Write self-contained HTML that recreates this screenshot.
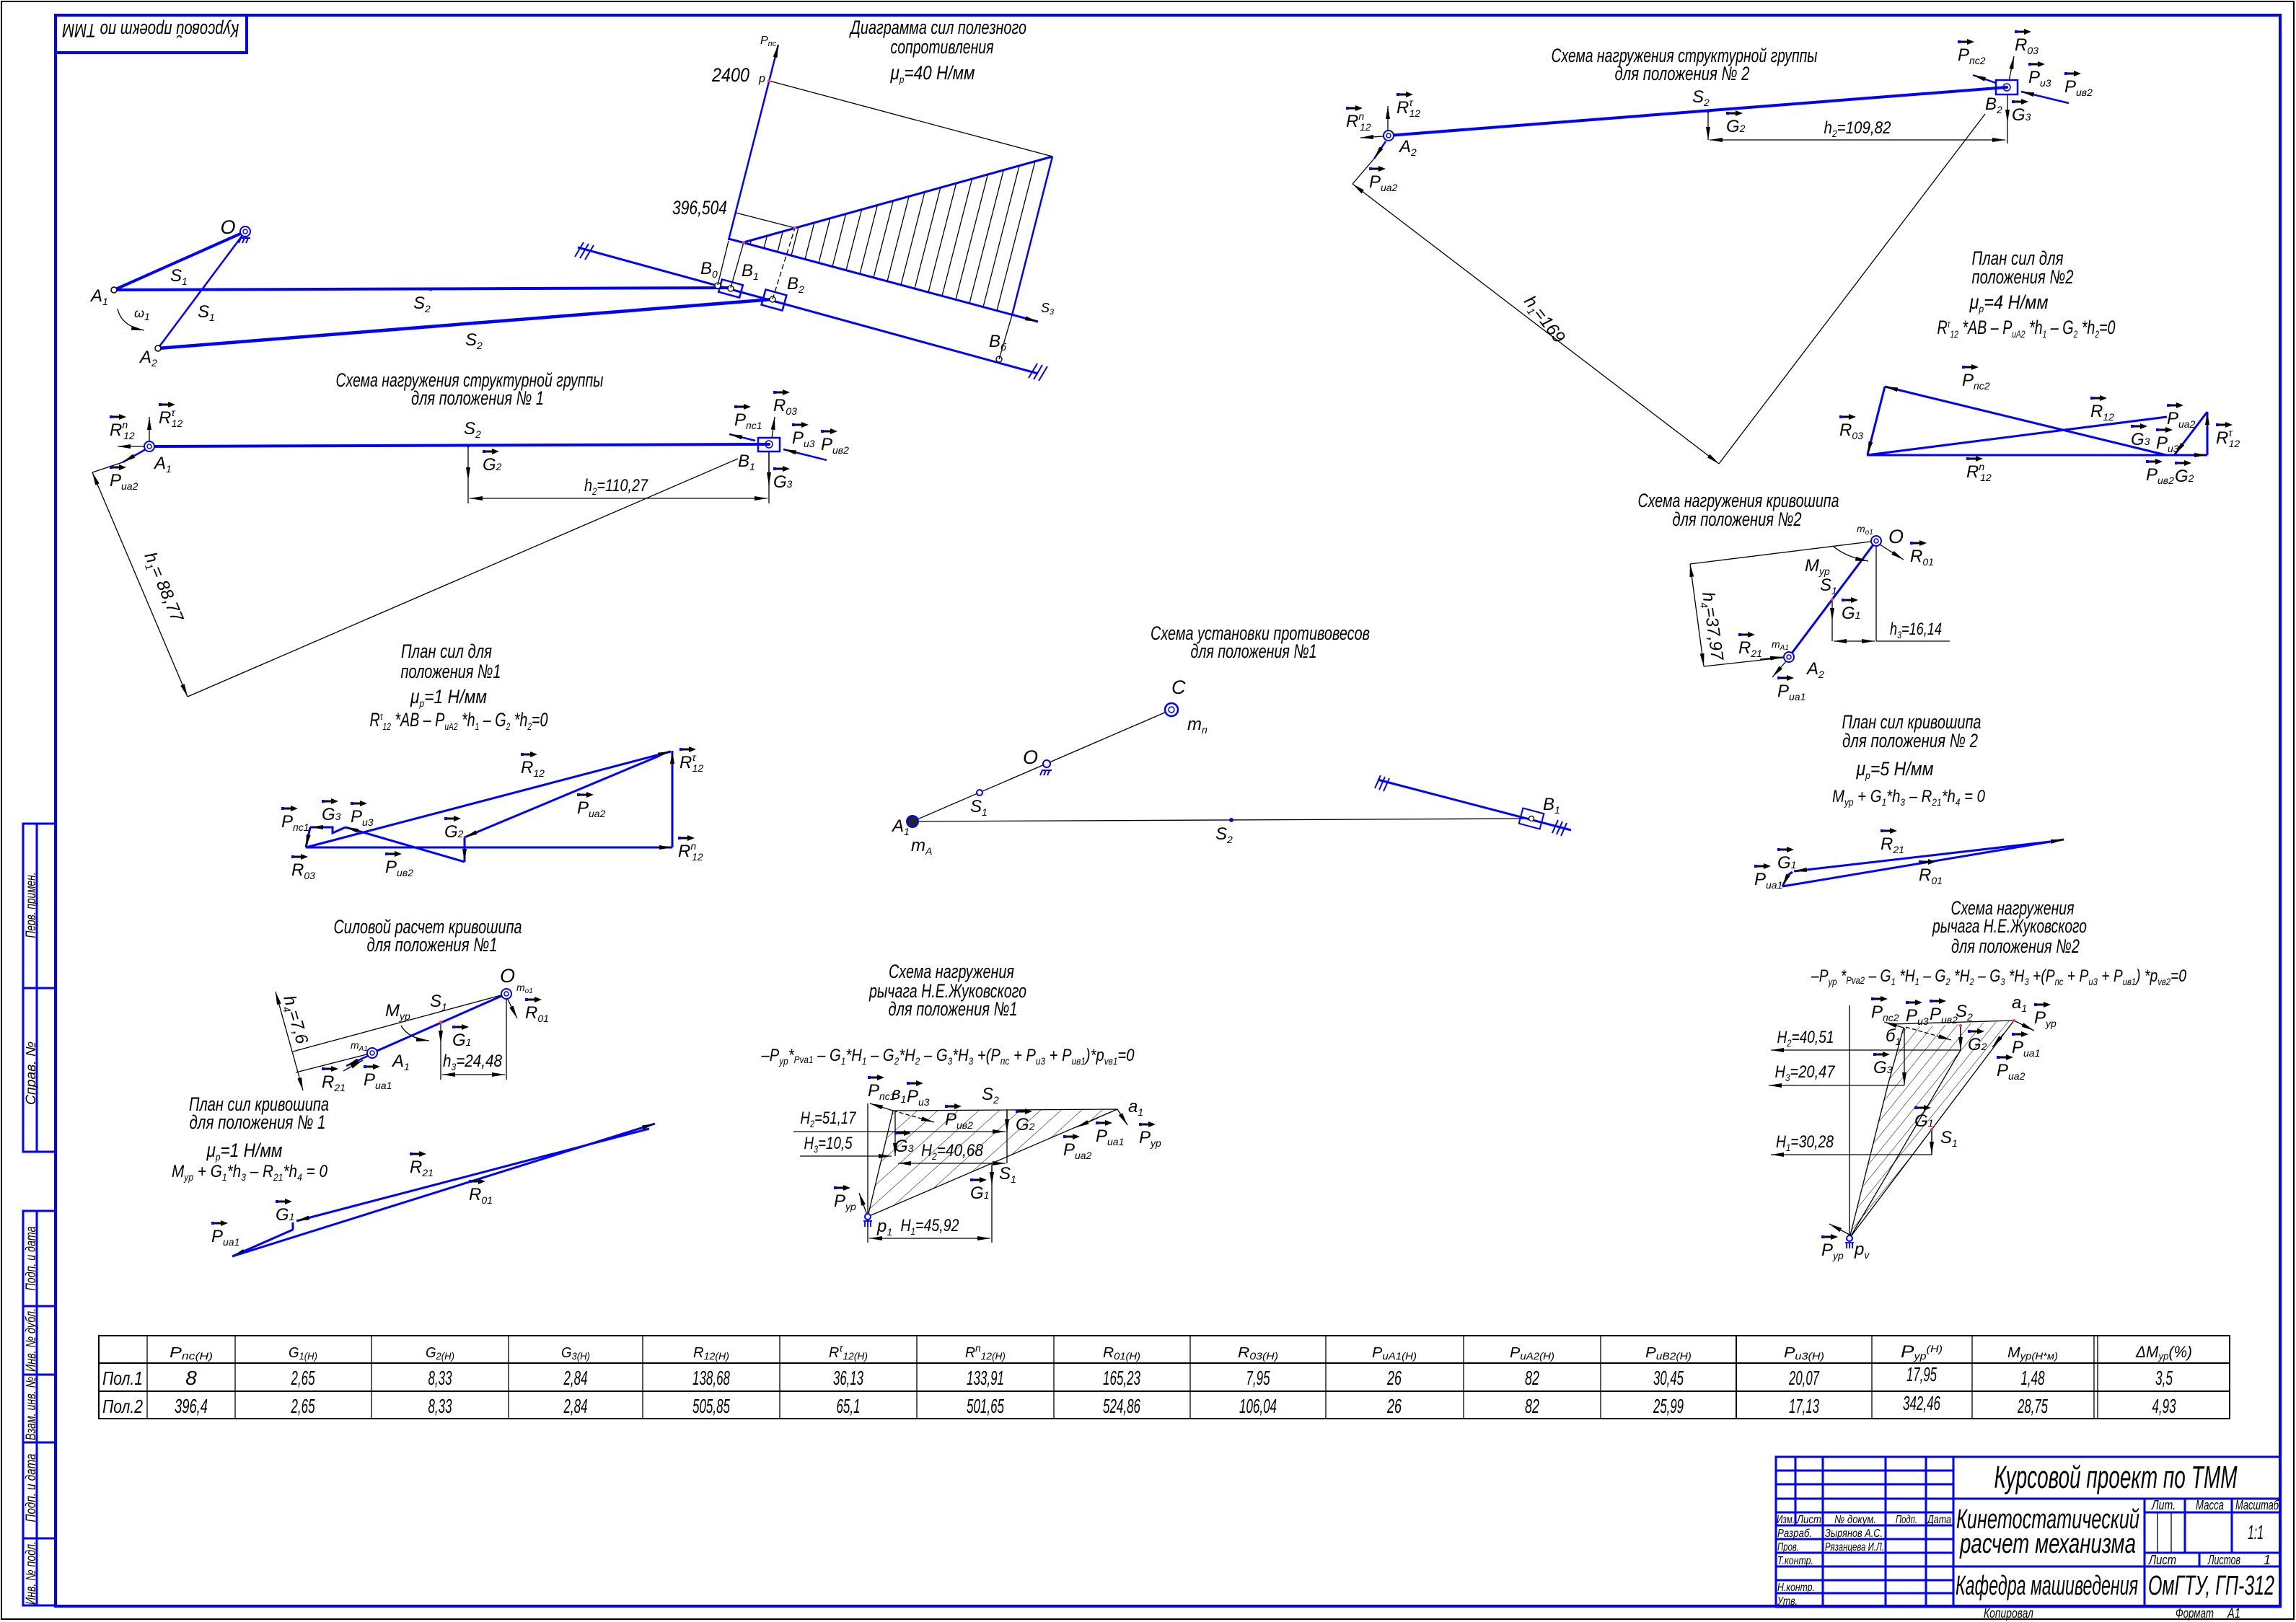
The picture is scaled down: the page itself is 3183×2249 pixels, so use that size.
<!DOCTYPE html>
<html><head><meta charset="utf-8">
<style>
html,body{margin:0;padding:0;background:#fff}
svg{display:block}
text{font-family:"Liberation Sans Narrow","Liberation Sans","DejaVu Sans",sans-serif;font-style:italic;fill:#000}
.t{font-size:27px}
.l{font-size:24px}
.s{font-size:14px}
.m{font-size:18px}
.b{stroke:#0000ff;fill:none}
.k{stroke:#000;fill:none;stroke-width:1.3}
.f{stroke:#0000ff;fill:none;stroke-width:3}
.tb{stroke:#000;fill:none}
.bl{stroke:#0000ff;fill:none;stroke-width:3}
</style></head><body>
<svg width="3183" height="2249" viewBox="0 0 3183 2249" xmlns="http://www.w3.org/2000/svg">
<defs>
<marker id="a" viewBox="0 0 18 6" refX="18" refY="3" markerWidth="18" markerHeight="6" markerUnits="userSpaceOnUse" orient="auto-start-reverse"><path d="M0 0L18 3L0 6z" fill="#000"/></marker>
<g id="v"><rect x="0" y="-2" width="4" height="4" fill="#00f"/><path d="M4 0H16" stroke="#000" stroke-width="3"/><path d="M13 -4L23 0L13 4z" fill="#000"/></g>
<g id="c"><circle r="7" fill="#fff" stroke="#00f" stroke-width="2"/><circle r="3" fill="none" stroke="#00f" stroke-width="1.5"/></g>
<g id="g"><path d="M-7 9H7M-6 9l-3 7M-1 9l-3 7M4 9l-3 7" stroke="#00f" stroke-width="2" fill="none"/></g>
<pattern id="h1" width="19" height="19" patternUnits="userSpaceOnUse" patternTransform="rotate(48)"><line x1="0" y1="0" x2="0" y2="19" stroke="#000" stroke-width="1"/></pattern>
<pattern id="h2" width="13" height="13" patternUnits="userSpaceOnUse" patternTransform="rotate(39)"><line x1="0" y1="0" x2="0" y2="13" stroke="#000" stroke-width="1"/></pattern>
</defs>
<rect width="3183" height="2249" fill="#fff"/>
<!-- frame -->
<rect x="2" y="2" width="3178" height="2243" fill="none" stroke="#000" stroke-width="2"/>
<rect x="77" y="21" width="3084" height="2206" fill="none" stroke="#00f" stroke-width="4"/>
<rect x="77" y="21" width="265" height="52" fill="none" stroke="#00f" stroke-width="4"/>
<text class="t" transform="rotate(180 209 47)" x="209" y="61" text-anchor="middle" textLength="245" lengthAdjust="spacingAndGlyphs">Курсовой проект по ТММ</text>

<!-- sidebar -->
<g class="bl">
<rect x="32" y="1142" width="45" height="455"/><path d="M51 1142V1597M32 1370H77"/>
<rect x="32" y="1679" width="45" height="547"/><path d="M51 1679V2226M32 1811H77M32 1906H77M32 2000H77M32 2133H77"/>
</g>
<text transform="translate(49 1255) rotate(-90)" text-anchor="middle" style="font-size:19px" textLength="91" lengthAdjust="spacingAndGlyphs">Перв. примен.</text>
<text transform="translate(49 1488) rotate(-90)" text-anchor="middle" style="font-size:19px" textLength="88" lengthAdjust="spacingAndGlyphs">Справ. №</text>
<text transform="translate(49 1745) rotate(-90)" text-anchor="middle" style="font-size:19px" textLength="89" lengthAdjust="spacingAndGlyphs">Подп. и дата</text>
<text transform="translate(49 1858) rotate(-90)" text-anchor="middle" style="font-size:19px" textLength="88" lengthAdjust="spacingAndGlyphs">Инв. № дубл.</text>
<text transform="translate(49 1953) rotate(-90)" text-anchor="middle" style="font-size:19px" textLength="88" lengthAdjust="spacingAndGlyphs">Взам. инв. №</text>
<text transform="translate(49 2063) rotate(-90)" text-anchor="middle" style="font-size:19px" textLength="95" lengthAdjust="spacingAndGlyphs">Подп. и дата</text>
<text transform="translate(49 2181) rotate(-90)" text-anchor="middle" style="font-size:19px" textLength="88" lengthAdjust="spacingAndGlyphs">Инв. № подл.</text>

<!-- ============ TOP-LEFT MECHANISM ============ -->
<path class="b" stroke-width="4" d="M158 402L340 321"/>
<path class="b" stroke-width="2.5" d="M340 321L219 483"/>
<path class="b" stroke-width="4" d="M158 402L1012 399"/>
<path class="b" stroke-width="4.5" d="M219 483L1071 415"/>
<circle cx="158" cy="402" r="4" fill="#fff" stroke="#000" stroke-width="1.5"/>
<circle cx="219" cy="483" r="4" fill="#fff" stroke="#000" stroke-width="1.5"/>
<use href="#g" x="340" y="321"/><use href="#c" x="340" y="321"/>
<circle cx="597" cy="401" r="2.5" fill="#00f"/><circle cx="658" cy="448" r="2.5" fill="#00f"/>
<text class="t" x="316" y="324" text-anchor="middle">O</text>
<text class="l" x="126" y="418">A<tspan class="s" dy="5">1</tspan></text>
<text class="l" x="194" y="503">A<tspan class="s" dy="5">2</tspan></text>
<text class="l" x="236" y="390">S<tspan class="s" dy="5">1</tspan></text>
<text class="l" x="274" y="440">S<tspan class="s" dy="5">1</tspan></text>
<text class="m" x="186" y="440">ω<tspan class="s" dy="4">1</tspan></text>
<path class="k" d="M163 428Q168 452 200 458" marker-end="url(#a)"/>
<text class="l" x="573" y="428">S<tspan class="s" dy="5">2</tspan></text>
<text class="l" x="645" y="479">S<tspan class="s" dy="5">2</tspan></text>
<!-- guide -->
<path class="b" stroke-width="3" d="M801 343L1439 518"/>
<path class="b" stroke-width="2" d="M797 356L809 336M804 358L816 338M811 360L823 340M1426 524L1438 504M1433 526L1445 506M1440 528L1452 508"/>
<rect x="-15" y="-9" width="30" height="18" transform="translate(1013 400) rotate(15.3)" fill="none" stroke="#00f" stroke-width="2.5"/>
<rect x="-15" y="-11" width="30" height="22" transform="translate(1073 416) rotate(15.3)" fill="none" stroke="#00f" stroke-width="2.5"/>
<circle cx="995" cy="396" r="4" fill="#fff" stroke="#000" stroke-width="1.3"/>
<circle cx="1013" cy="400" r="4" fill="#fff" stroke="#000" stroke-width="1.3"/>
<circle cx="1071" cy="415" r="4" fill="#fff" stroke="#000" stroke-width="1.3"/>
<circle cx="1385" cy="498" r="4" fill="#fff" stroke="#000" stroke-width="1.3"/>
<text class="l" x="971" y="380">B<tspan class="s" dy="5">0</tspan></text>
<text class="l" x="1028" y="383">B<tspan class="s" dy="5">1</tspan></text>
<text class="l" x="1091" y="401">B<tspan class="s" dy="5">2</tspan></text>
<text class="l" x="1371" y="481">B<tspan class="s" dy="5">б</tspan></text>
<!-- diagram -->
<path class="b" stroke-width="2.5" d="M1010 333L1079 62" marker-end="url(#a)"/>
<path class="b" stroke-width="3" d="M1031 336L1459 217"/>
<path class="b" stroke-width="2.5" d="M1459 217L1403 437"/>
<path class="b" stroke-width="3" d="M1010 331L1439 446" marker-end="url(#a)"/>
<path class="k" d="M1066 112L1459 217M1020 295L1102 316M995 395L1010 334M1013 399L1031 336M1385 498L1403 437"/>
<path class="k" stroke-dasharray="7 4" d="M1071 415L1102 316"/>
<path class="k" stroke-width="1" d="M1040 339L1041.5 333.1M1059 344.1L1063.4 327M1078 349.2L1085.2 320.9M1097 354.3L1107.1 314.8M1116 359.4L1128.9 308.8M1135 364.5L1150.8 302.7M1154 369.6L1172.7 296.6M1173 374.7L1194.6 290.5M1192 379.8L1216.4 284.5M1211 384.9L1238.3 278.4M1230 390L1260.1 272.4M1249 395L1282 266.1M1268 400.1L1303.8 260.2M1287 405.2L1325.7 254M1306 410.3L1347.6 247.9M1325 415.4L1369.4 241.8M1344 420.5L1391.3 235.8M1363 425.6L1413.1 229.8M1382 430.7L1435 223.6"/>
<circle cx="1066" cy="112" r="2" fill="#f44"/><circle cx="1102" cy="316" r="2" fill="#f44"/><circle cx="1031" cy="336" r="2" fill="#f44"/>
<text class="m" x="1054" y="61" style="font-size:16px">P<tspan class="s" style="font-size:11px" dy="3">пс</tspan></text>
<text class="t" x="1013" y="113" text-anchor="middle" textLength="52" lengthAdjust="spacingAndGlyphs">2400</text>
<text class="m" x="1052" y="114" style="font-size:16px">p</text>
<text class="t" x="970" y="297" text-anchor="middle" textLength="76" lengthAdjust="spacingAndGlyphs">396,504</text>
<text class="m" x="1443" y="433">S<tspan class="s" style="font-size:11px" dy="3">3</tspan></text>
<text class="t" x="1301" y="47" text-anchor="middle" textLength="244" lengthAdjust="spacingAndGlyphs">Диаграмма сил полезного</text>
<text class="t" x="1306" y="74" text-anchor="middle" textLength="143" lengthAdjust="spacingAndGlyphs">сопротивления</text>
<text class="t" x="1293" y="110" text-anchor="middle" textLength="117" lengthAdjust="spacingAndGlyphs">μ<tspan class="s" dy="5">p</tspan><tspan dy="-5">=40 Н/мм</tspan></text>

<!-- ============ STRUCT GROUP 1 ============ -->
<text class="t" x="651" y="536" text-anchor="middle" textLength="371" lengthAdjust="spacingAndGlyphs">Схема нагружения структурной группы</text>
<text class="t" x="662" y="561" text-anchor="middle" textLength="184" lengthAdjust="spacingAndGlyphs">для положения № 1</text>
<path class="b" stroke-width="4" d="M207 619L1066 616"/>
<use href="#c" x="207" y="619"/>
<path class="k" stroke-width="1.6" d="M207 612L207 578" marker-end="url(#a)"/>
<path class="k" stroke-width="1.6" d="M199 619L163 619" marker-end="url(#a)"/>
<path class="b" stroke-width="2.5" d="M202 623L170 641" marker-end="url(#a)"/>
<path class="k" d="M170 641L128 655"/>
<path class="k" d="M128 655L260 966" marker-start="url(#a)" marker-end="url(#a)"/>
<path class="k" d="M260 966L1023 636"/>
<text class="l" transform="translate(200 770) rotate(67)" x="0" y="0">h<tspan class="s" dy="5">1</tspan><tspan dy="-5">= 88,77</tspan></text>
<circle cx="649" cy="618" r="2.5" fill="#00f"/>
<path class="k" stroke-width="1.6" d="M649 620L649 666" marker-end="url(#a)"/>
<path class="k" d="M649 666L649 698M1066 626L1066 698"/>
<path class="k" d="M651 691L1064 691" marker-start="url(#a)" marker-end="url(#a)"/>
<text class="l" x="854" y="681" text-anchor="middle" textLength="88" lengthAdjust="spacingAndGlyphs">h<tspan class="s" dy="5">2</tspan><tspan dy="-5">=110,27</tspan></text>
<rect x="1051" y="607" width="30" height="19" fill="none" stroke="#00f" stroke-width="2.5"/>
<circle cx="1066" cy="616" r="5" fill="none" stroke="#00f" stroke-width="1.5"/><circle cx="1066" cy="616" r="2" fill="#00f"/>
<path class="k" stroke-width="1.6" d="M1066 627L1066 673" marker-end="url(#a)"/>
<path class="k" stroke-width="1.6" d="M1070 607L1074 578" marker-end="url(#a)"/>
<path class="b" stroke-width="2.5" d="M1047 611L1011 602" marker-end="url(#a)"/>
<path class="b" stroke-width="2.5" d="M1146 638L1086 623" marker-end="url(#a)"/>
<text class="l" x="214" y="650">A<tspan class="s" dy="5">1</tspan></text>
<use href="#v" x="220" y="561"/><text class="l" x="220" y="587">R<tspan class="s" dy="-10">τ</tspan><tspan class="s" dx="-5" dy="15">12</tspan></text>
<use href="#v" x="152" y="578"/><text class="l" x="152" y="604">R<tspan class="s" dy="-10">n</tspan><tspan class="s" dx="-6" dy="15">12</tspan></text>
<use href="#v" x="152" y="648"/><text class="l" x="152" y="674">P<tspan class="s" dy="5">иа2</tspan></text>
<text class="l" x="643" y="602">S<tspan class="s" dy="5">2</tspan></text>
<use href="#v" x="669" y="626"/><text class="l" x="669" y="652">G<tspan class="s" dy="0">2</tspan></text>
<text class="l" x="1023" y="647">B<tspan class="s" dy="5">1</tspan></text>
<use href="#v" x="1072" y="650"/><text class="l" x="1072" y="676">G<tspan class="s">3</tspan></text>
<use href="#v" x="1072" y="544"/><text class="l" x="1072" y="570">R<tspan class="s" dy="5">03</tspan></text>
<use href="#v" x="1018" y="564"/><text class="l" x="1018" y="590">P<tspan class="s" dy="5">пс1</tspan></text>
<use href="#v" x="1098" y="589"/><text class="l" x="1098" y="615">P<tspan class="s" dy="5">и3</tspan></text>
<use href="#v" x="1138" y="598"/><text class="l" x="1138" y="624">P<tspan class="s" dy="5">ив2</tspan></text>

<!-- ============ FORCE PLAN 1 ============ -->
<text class="t" x="619" y="912" text-anchor="middle" textLength="126" lengthAdjust="spacingAndGlyphs">План сил для</text>
<text class="t" x="625" y="940" text-anchor="middle" textLength="139" lengthAdjust="spacingAndGlyphs">положения №1</text>
<text class="t" x="622" y="975" text-anchor="middle" textLength="106" lengthAdjust="spacingAndGlyphs">μ<tspan class="s" dy="5">p</tspan><tspan dy="-5">=1 Н/мм</tspan></text>
<text class="t" x="636" y="1007" text-anchor="middle" textLength="247" lengthAdjust="spacingAndGlyphs">R<tspan class="s" dy="-9">τ</tspan><tspan class="s" dy="14">12</tspan><tspan dy="-5"> *AB – P</tspan><tspan class="s" dy="5">иА2</tspan><tspan dy="-5"> *h</tspan><tspan class="s" dy="5">1</tspan><tspan dy="-5"> – G</tspan><tspan class="s" dy="5">2</tspan><tspan dy="-5"> *h</tspan><tspan class="s" dy="5">2</tspan><tspan dy="-5">=0</tspan></text>
<path class="f" d="M424 1175L932 1175" marker-end="url(#a)"/>
<path class="f" d="M932 1175L932 1041" marker-end="url(#a)"/>
<path class="f" d="M424 1175L930 1042" marker-end="url(#a)"/>
<path class="f" d="M914 1048L644 1161" marker-end="url(#a)"/>
<path class="f" d="M644 1161L644 1195" marker-end="url(#a)"/>
<path class="f" d="M644 1195L479 1147" marker-end="url(#a)"/>
<path class="f" d="M479 1147L461 1155L461 1147L430 1147" marker-end="url(#a)"/>
<path class="f" d="M430 1147L424 1175" marker-end="url(#a)"/>
<use href="#v" x="722" y="1046"/><text class="l" x="722" y="1072">R<tspan class="s" dy="5">12</tspan></text>
<use href="#v" x="942" y="1039"/><text class="l" x="942" y="1065">R<tspan class="s" dy="-10">τ</tspan><tspan class="s" dx="-5" dy="15">12</tspan></text>
<use href="#v" x="800" y="1102"/><text class="l" x="800" y="1128">P<tspan class="s" dy="5">иа2</tspan></text>
<use href="#v" x="616" y="1135"/><text class="l" x="616" y="1161">G<tspan class="s">2</tspan></text>
<use href="#v" x="534" y="1184"/><text class="l" x="534" y="1210">P<tspan class="s" dy="5">ив2</tspan></text>
<use href="#v" x="404" y="1188"/><text class="l" x="404" y="1214">R<tspan class="s" dy="5">03</tspan></text>
<use href="#v" x="390" y="1121"/><text class="l" x="390" y="1147">P<tspan class="s" dy="5">пс1</tspan></text>
<use href="#v" x="446" y="1111"/><text class="l" x="446" y="1137">G<tspan class="s">3</tspan></text>
<use href="#v" x="486" y="1114"/><text class="l" x="486" y="1140">P<tspan class="s" dy="5">и3</tspan></text>
<use href="#v" x="940" y="1162"/><text class="l" x="940" y="1188">R<tspan class="s" dy="-10">n</tspan><tspan class="s" dx="-6" dy="15">12</tspan></text>

<!-- ============ CRANK 1 ============ -->
<text class="t" x="593" y="1294" text-anchor="middle" textLength="261" lengthAdjust="spacingAndGlyphs">Силовой расчет кривошипа</text>
<text class="t" x="599" y="1319" text-anchor="middle" textLength="181" lengthAdjust="spacingAndGlyphs">для положения №1</text>
<path class="k" d="M702 1378L406 1458M516 1460L410 1487M702 1385L702 1497M611 1447L611 1497"/>
<path class="k" d="M382 1375L420 1512" marker-start="url(#a)" marker-end="url(#a)"/>
<path class="b" stroke-width="3" d="M702 1378L516 1460"/>
<path class="b" stroke-width="2.5" d="M510 1464L480 1478" marker-end="url(#a)"/>
<path class="k" stroke-width="1.6" d="M476 1485L503 1470" marker-end="url(#a)"/>
<use href="#c" x="702" y="1378"/><use href="#c" x="516" y="1460"/>
<circle cx="611" cy="1417" r="2" fill="#f44"/>
<path class="k" stroke-width="1.6" d="M611 1420L611 1447" marker-end="url(#a)"/>
<path class="k" d="M613 1490L700 1490" marker-start="url(#a)" marker-end="url(#a)"/>
<path class="k" stroke-width="1.6" d="M703 1384L717 1412" marker-end="url(#a)"/>
<path class="k" d="M556 1422Q566 1440 595 1443" marker-end="url(#a)"/>
<text class="l" transform="translate(393 1383) rotate(74)" x="0" y="0">h<tspan class="s" dy="5">4</tspan><tspan dy="-5">=7,6</tspan></text>
<text class="t" x="693" y="1362">O</text>
<text class="s" x="716" y="1374">m<tspan style="font-size:10px" dy="3">o1</tspan></text>
<text class="l" x="544" y="1479">A<tspan class="s" dy="5">1</tspan></text>
<text class="s" x="486" y="1454">m<tspan style="font-size:10px" dy="3">A1</tspan></text>
<text class="l" x="596" y="1396">S<tspan class="s" dy="5">1</tspan></text>
<text class="l" x="534" y="1409">M<tspan class="s" dy="5">ур</tspan></text>
<use href="#v" x="627" y="1424"/><text class="l" x="627" y="1450">G<tspan class="s">1</tspan></text>
<text class="l" x="655" y="1479" text-anchor="middle" textLength="82" lengthAdjust="spacingAndGlyphs">h<tspan class="s" dy="5">3</tspan><tspan dy="-5">=24,48</tspan></text>
<use href="#v" x="728" y="1386"/><text class="l" x="728" y="1412">R<tspan class="s" dy="5">01</tspan></text>
<use href="#v" x="446" y="1482"/><text class="l" x="446" y="1508">R<tspan class="s" dy="5">21</tspan></text>
<use href="#v" x="504" y="1479"/><text class="l" x="504" y="1505">P<tspan class="s" dy="5">иа1</tspan></text>

<!-- PLAN CRANK 1 -->
<text class="t" x="359" y="1540" text-anchor="middle" textLength="194" lengthAdjust="spacingAndGlyphs">План сил кривошипа</text>
<text class="t" x="357" y="1565" text-anchor="middle" textLength="189" lengthAdjust="spacingAndGlyphs">для положения № 1</text>
<text class="t" x="339" y="1604" text-anchor="middle" textLength="105" lengthAdjust="spacingAndGlyphs">μ<tspan class="s" dy="5">p</tspan><tspan dy="-5">=1 Н/мм</tspan></text>
<text class="l" x="346" y="1632" text-anchor="middle" textLength="216" lengthAdjust="spacingAndGlyphs">M<tspan class="s" dy="5">ур</tspan><tspan dy="-5"> + G</tspan><tspan class="s" dy="5">1</tspan><tspan dy="-5">*h</tspan><tspan class="s" dy="5">3</tspan><tspan dy="-5"> – R</tspan><tspan class="s" dy="5">21</tspan><tspan dy="-5">*h</tspan><tspan class="s" dy="5">4</tspan><tspan dy="-5"> = 0</tspan></text>
<path class="f" d="M900 1565L411 1693" marker-end="url(#a)"/>
<path class="f" d="M406 1695L406 1705"/>
<path class="f" d="M406 1705L322 1742" marker-end="url(#a)"/>
<path class="f" d="M322 1742L908 1558" marker-end="url(#a)"/>
<use href="#v" x="568" y="1600"/><text class="l" x="568" y="1626">R<tspan class="s" dy="5">21</tspan></text>
<use href="#v" x="650" y="1638"/><text class="l" x="650" y="1664">R<tspan class="s" dy="5">01</tspan></text>
<use href="#v" x="382" y="1666"/><text class="l" x="382" y="1692">G<tspan class="s">1</tspan></text>
<use href="#v" x="293" y="1696"/><text class="l" x="293" y="1722">P<tspan class="s" dy="5">иа1</tspan></text>

<!-- ============ ZHUKOVSKY 1 ============ -->
<text class="t" x="1319" y="1356" text-anchor="middle" textLength="174" lengthAdjust="spacingAndGlyphs">Схема нагружения</text>
<text class="t" x="1314" y="1383" text-anchor="middle" textLength="218" lengthAdjust="spacingAndGlyphs">рычага Н.Е.Жуковского</text>
<text class="t" x="1321" y="1408" text-anchor="middle" textLength="179" lengthAdjust="spacingAndGlyphs">для положения №1</text>
<text class="l" x="1314" y="1471" text-anchor="middle" textLength="517" lengthAdjust="spacingAndGlyphs">–P<tspan class="s" dy="5">ур</tspan><tspan dy="-5">*</tspan><tspan class="s" dy="3">Pvа1</tspan><tspan dy="-3"> – G</tspan><tspan class="s" dy="5">1</tspan><tspan dy="-5">*H</tspan><tspan class="s" dy="5">1</tspan><tspan dy="-5"> – G</tspan><tspan class="s" dy="5">2</tspan><tspan dy="-5">*H</tspan><tspan class="s" dy="5">2</tspan><tspan dy="-5"> – G</tspan><tspan class="s" dy="5">3</tspan><tspan dy="-5">*H</tspan><tspan class="s" dy="5">3</tspan><tspan dy="-5"> +(P</tspan><tspan class="s" dy="5">пс</tspan><tspan dy="-5"> + P</tspan><tspan class="s" dy="5">и3</tspan><tspan dy="-5"> + P</tspan><tspan class="s" dy="5">ив1</tspan><tspan dy="-5">)*p</tspan><tspan class="s" dy="5">vв1</tspan><tspan dy="-5">=0</tspan></text>
<path d="M1203 1687L1238 1540L1549 1538Z" fill="url(#h1)" stroke="none"/>
<path class="k" d="M1203 1530L1203 1723M1238 1540L1549 1538M1203 1687L1549 1538M1203 1687L1238 1540M1396 1538L1396 1613M1375 1617L1375 1723"/>
<path class="k" stroke-width="1.6" d="M1241 1542L1241 1603" marker-end="url(#a)"/>
<path class="k" stroke-width="1.6" d="M1396 1540L1396 1570" marker-end="url(#a)"/>
<path class="k" stroke-width="1.6" d="M1375 1614L1375 1643" marker-end="url(#a)"/>
<path class="k" d="M1100 1569L1394 1569" marker-end="url(#a)"/>
<path class="k" d="M1109 1603L1236 1603" marker-end="url(#a)"/>
<path class="k" d="M1245 1613L1394 1613" marker-start="url(#a)" marker-end="url(#a)"/>
<path class="k" d="M1205 1717L1373 1717" marker-start="url(#a)" marker-end="url(#a)"/>
<path class="k" stroke-width="1.6" d="M1238 1540L1206 1530" marker-end="url(#a)"/>
<path class="k" stroke-width="1.6" stroke-dasharray="6 3" d="M1238 1540L1295 1556" marker-end="url(#a)"/>
<path class="k" stroke-width="1.6" d="M1549 1538L1563 1560" marker-end="url(#a)"/>
<path class="k" stroke-width="1.6" d="M1522 1550L1492 1563" marker-end="url(#a)"/>
<path class="k" stroke-width="1.6" d="M1203 1687L1191 1654" marker-end="url(#a)"/>
<circle cx="1203" cy="1687" r="4" fill="#fff" stroke="#00f" stroke-width="2"/>
<path class="b" stroke-width="1.8" d="M1197 1693h12M1199 1693v8M1203 1693v8M1207 1693v8"/>
<text class="l" x="1148" y="1558" text-anchor="middle" textLength="77" lengthAdjust="spacingAndGlyphs">H<tspan class="s" dy="5">2</tspan><tspan dy="-5">=51,17</tspan></text>
<text class="l" x="1148" y="1593" text-anchor="middle" textLength="67" lengthAdjust="spacingAndGlyphs">H<tspan class="s" dy="5">3</tspan><tspan dy="-5">=10,5</tspan></text>
<text class="l" x="1320" y="1603" text-anchor="middle" textLength="86" lengthAdjust="spacingAndGlyphs">H<tspan class="s" dy="5">2</tspan><tspan dy="-5">=40,68</tspan></text>
<text class="l" x="1289" y="1707" text-anchor="middle" textLength="81" lengthAdjust="spacingAndGlyphs">H<tspan class="s" dy="5">1</tspan><tspan dy="-5">=45,92</tspan></text>
<use href="#v" x="1203" y="1494"/><text class="l" x="1203" y="1520">P<tspan class="s" dy="5">пс1</tspan></text>
<text class="l" x="1236" y="1524">в<tspan class="s" dy="5">1</tspan></text>
<use href="#v" x="1257" y="1502"/><text class="l" x="1257" y="1528">P<tspan class="s" dy="5">и3</tspan></text>
<text class="l" x="1361" y="1525">S<tspan class="s" dy="5">2</tspan></text>
<text class="l" x="1564" y="1542">а<tspan class="s" dy="5">1</tspan></text>
<use href="#v" x="1310" y="1534"/><text class="l" x="1310" y="1560">P<tspan class="s" dy="5">ив2</tspan></text>
<use href="#v" x="1408" y="1541"/><text class="l" x="1408" y="1567">G<tspan class="s">2</tspan></text>
<use href="#v" x="1240" y="1571"/><text class="l" x="1240" y="1597">G<tspan class="s">3</tspan></text>
<use href="#v" x="1519" y="1557"/><text class="l" x="1519" y="1583">P<tspan class="s" dy="5">иа1</tspan></text>
<use href="#v" x="1579" y="1559"/><text class="l" x="1579" y="1585">P<tspan class="s" dy="5">ур</tspan></text>
<use href="#v" x="1474" y="1576"/><text class="l" x="1474" y="1602">P<tspan class="s" dy="5">иа2</tspan></text>
<text class="l" x="1385" y="1635">S<tspan class="s" dy="5">1</tspan></text>
<use href="#v" x="1345" y="1636"/><text class="l" x="1345" y="1662">G<tspan class="s">1</tspan></text>
<use href="#v" x="1156" y="1647"/><text class="l" x="1156" y="1673">P<tspan class="s" dy="5">ур</tspan></text>
<text class="l" x="1216" y="1708">p<tspan class="s" dy="5">1</tspan></text>

<!-- ============ COUNTERWEIGHTS ============ -->
<text class="t" x="1747" y="887" text-anchor="middle" textLength="304" lengthAdjust="spacingAndGlyphs">Схема установки противовесов</text>
<text class="t" x="1738" y="912" text-anchor="middle" textLength="175" lengthAdjust="spacingAndGlyphs">для положения №1</text>
<path class="k" stroke-width="1.5" d="M1265 1139L1624 984"/>
<path class="k" stroke-width="2" d="M1265 1139L2123 1135"/>
<path class="b" stroke-width="3" d="M1910 1081L2178 1151"/>
<path class="b" stroke-width="2" d="M1906 1093L1914 1075M1912 1095L1920 1077M1918 1097L1926 1079M2152 1155L2160 1137M2158 1157L2166 1139M2164 1159L2172 1141"/>
<rect x="-15" y="-11" width="30" height="22" transform="translate(2123 1135) rotate(15)" fill="none" stroke="#00f" stroke-width="2"/>
<circle cx="2123" cy="1135" r="3.5" fill="#fff" stroke="#000" stroke-width="1.3"/>
<circle cx="1265" cy="1139" r="8" fill="#223" stroke="#00f" stroke-width="2"/>
<use href="#g" x="1451" y="1059"/><circle cx="1451" cy="1059" r="5" fill="#fff" stroke="#00f" stroke-width="2"/>
<circle cx="1358" cy="1099" r="4" fill="#fff" stroke="#00f" stroke-width="2"/>
<circle cx="1624" cy="984" r="9" fill="#fff" stroke="#00f" stroke-width="2.5"/><circle cx="1624" cy="984" r="4" fill="none" stroke="#00f" stroke-width="1.5"/>
<circle cx="1707" cy="1137" r="3" fill="#00f"/>
<text class="t" x="1624" y="962">C</text>
<text class="l" x="1646" y="1012">m<tspan class="s" dy="5">п</tspan></text>
<text class="t" x="1418" y="1059">O</text>
<text class="l" x="1345" y="1126">S<tspan class="s" dy="5">1</tspan></text>
<text class="l" x="1237" y="1153">A<tspan class="s" dy="5">1</tspan></text>
<text class="l" x="1263" y="1180">m<tspan class="s" dy="5">A</tspan></text>
<text class="l" x="1685" y="1164">S<tspan class="s" dy="5">2</tspan></text>
<text class="l" x="2139" y="1123">B<tspan class="s" dy="5">1</tspan></text>

<!-- ============ STRUCT GROUP 2 ============ -->
<text class="t" x="2335" y="86" text-anchor="middle" textLength="369" lengthAdjust="spacingAndGlyphs">Схема нагружения структурной группы</text>
<text class="t" x="2332" y="111" text-anchor="middle" textLength="187" lengthAdjust="spacingAndGlyphs">для положения № 2</text>
<path class="b" stroke-width="4" d="M1925 188L2782 121"/>
<use href="#c" x="1925" y="188"/>
<rect x="2767" y="111" width="30" height="20" fill="none" stroke="#00f" stroke-width="2.5"/>
<circle cx="2782" cy="121" r="5" fill="none" stroke="#00f" stroke-width="1.5"/><circle cx="2782" cy="121" r="2" fill="#00f"/>
<circle cx="2368" cy="154" r="2.5" fill="#00f"/>
<path class="k" stroke-width="1.6" d="M2368 156L2368 194" marker-end="url(#a)"/>
<path class="k" d="M2370 194L2780 194" marker-start="url(#a)" marker-end="url(#a)"/>
<path class="k" stroke-width="1.6" d="M2783 131L2783 170" marker-end="url(#a)"/>
<path class="k" d="M2783 170L2783 199"/>
<path class="k" stroke-width="1.6" d="M2785 112L2792 78" marker-end="url(#a)"/>
<path class="b" stroke-width="2.5" d="M2767 115L2735 104" marker-end="url(#a)"/>
<path class="b" stroke-width="2.5" d="M2868 143L2802 127" marker-end="url(#a)"/>
<path class="k" stroke-width="1.6" d="M1924 181L1924 147" marker-end="url(#a)"/>
<path class="k" stroke-width="1.6" d="M1918 189L1886 191" marker-end="url(#a)"/>
<path class="b" stroke-width="2.5" d="M1921 196L1905 220" marker-end="url(#a)"/>
<path class="k" d="M1905 220L1875 255M2752 158L2383 643"/>
<path class="k" d="M1875 255L2383 643" marker-start="url(#a)" marker-end="url(#a)"/>
<text class="l" transform="translate(2112 418) rotate(52)" x="0" y="0">h<tspan class="s" dy="5">1</tspan><tspan dy="-5">=169</tspan></text>
<text class="l" x="2346" y="142">S<tspan class="s" dy="5">2</tspan></text>
<use href="#v" x="2393" y="157"/><text class="l" x="2393" y="183">G<tspan class="s">2</tspan></text>
<text class="l" x="2575" y="185" text-anchor="middle" textLength="93" lengthAdjust="spacingAndGlyphs">h<tspan class="s" dy="5">2</tspan><tspan dy="-5">=109,82</tspan></text>
<use href="#v" x="2789" y="141"/><text class="l" x="2789" y="167">G<tspan class="s">3</tspan></text>
<use href="#v" x="2793" y="44"/><text class="l" x="2793" y="70">R<tspan class="s" dy="5">03</tspan></text>
<use href="#v" x="2714" y="58"/><text class="l" x="2714" y="84">P<tspan class="s" dy="5">пс2</tspan></text>
<use href="#v" x="2812" y="89"/><text class="l" x="2812" y="115">P<tspan class="s" dy="5">и3</tspan></text>
<use href="#v" x="2862" y="102"/><text class="l" x="2862" y="128">P<tspan class="s" dy="5">ив2</tspan></text>
<text class="l" x="2752" y="152">B<tspan class="s" dy="5">2</tspan></text>
<use href="#v" x="1936" y="131"/><text class="l" x="1936" y="157">R<tspan class="s" dy="-10">τ</tspan><tspan class="s" dx="-5" dy="15">12</tspan></text>
<use href="#v" x="1866" y="150"/><text class="l" x="1866" y="176">R<tspan class="s" dy="-10">n</tspan><tspan class="s" dx="-6" dy="15">12</tspan></text>
<text class="l" x="1940" y="211">A<tspan class="s" dy="5">2</tspan></text>
<use href="#v" x="1898" y="234"/><text class="l" x="1898" y="260">P<tspan class="s" dy="5">иа2</tspan></text>

<!-- PLAN 2 -->
<text class="t" x="2797" y="367" text-anchor="middle" textLength="127" lengthAdjust="spacingAndGlyphs">План сил для</text>
<text class="t" x="2804" y="393" text-anchor="middle" textLength="141" lengthAdjust="spacingAndGlyphs">положения №2</text>
<text class="t" x="2785" y="428" text-anchor="middle" textLength="109" lengthAdjust="spacingAndGlyphs">μ<tspan class="s" dy="5">p</tspan><tspan dy="-5">=4 Н/мм</tspan></text>
<text class="t" x="2809" y="463" text-anchor="middle" textLength="247" lengthAdjust="spacingAndGlyphs">R<tspan class="s" dy="-9">τ</tspan><tspan class="s" dy="14">12</tspan><tspan dy="-5"> *AB – P</tspan><tspan class="s" dy="5">иА2</tspan><tspan dy="-5"> *h</tspan><tspan class="s" dy="5">1</tspan><tspan dy="-5"> – G</tspan><tspan class="s" dy="5">2</tspan><tspan dy="-5"> *h</tspan><tspan class="s" dy="5">2</tspan><tspan dy="-5">=0</tspan></text>
<path class="f" d="M2588 631L3060 631" marker-end="url(#a)"/>
<path class="f" d="M3060 631L3060 571" marker-end="url(#a)"/>
<path class="f" d="M3060 571L3015 630" marker-end="url(#a)"/>
<path class="f" d="M3003 631L2613 536" marker-end="url(#a)"/>
<path class="f" d="M2613 536L2589 630" marker-end="url(#a)"/>
<path class="f" d="M2588 631L3004 578"/>
<use href="#v" x="2720" y="509"/><text class="l" x="2720" y="535">P<tspan class="s" dy="5">пс2</tspan></text>
<use href="#v" x="2898" y="552"/><text class="l" x="2898" y="578">R<tspan class="s" dy="5">12</tspan></text>
<use href="#v" x="3004" y="562"/><text class="l" x="3004" y="588">P<tspan class="s" dy="5">иа2</tspan></text>
<use href="#v" x="3072" y="589"/><text class="l" x="3072" y="615">R<tspan class="s" dy="-10">τ</tspan><tspan class="s" dx="-5" dy="15">12</tspan></text>
<use href="#v" x="2954" y="591"/><text class="l" x="2954" y="617">G<tspan class="s">3</tspan></text>
<use href="#v" x="2989" y="596"/><text class="l" x="2989" y="622">P<tspan class="s" dy="5">и3</tspan></text>
<use href="#v" x="2550" y="578"/><text class="l" x="2550" y="604">R<tspan class="s" dy="5">03</tspan></text>
<use href="#v" x="2726" y="636"/><text class="l" x="2726" y="662">R<tspan class="s" dy="-10">n</tspan><tspan class="s" dx="-6" dy="15">12</tspan></text>
<use href="#v" x="2975" y="640"/><text class="l" x="2975" y="666">P<tspan class="s" dy="5">ив2</tspan></text>
<use href="#v" x="3015" y="642"/><text class="l" x="3015" y="668">G<tspan class="s">2</tspan></text>

<!-- ============ CRANK 2 ============ -->
<text class="t" x="2410" y="703" text-anchor="middle" textLength="279" lengthAdjust="spacingAndGlyphs">Схема нагружения кривошипа</text>
<text class="t" x="2408" y="729" text-anchor="middle" textLength="179" lengthAdjust="spacingAndGlyphs">для положения №2</text>
<path class="k" d="M2601 750L2343 782M2480 911L2362 924M2601 757L2601 889M2601 889L2703 889M2540 861L2540 889"/>
<path class="k" d="M2343 782L2362 924" marker-start="url(#a)" marker-end="url(#a)"/>
<path class="b" stroke-width="3" d="M2601 750L2480 911"/>
<use href="#c" x="2601" y="750"/><use href="#c" x="2480" y="911"/>
<circle cx="2540" cy="831" r="2" fill="#f44"/>
<path class="k" stroke-width="1.6" d="M2540 833L2540 861" marker-end="url(#a)"/>
<path class="k" d="M2542 889L2599 889" marker-start="url(#a)" marker-end="url(#a)"/>
<path class="k" stroke-width="1.6" d="M2606 755L2639 776" marker-end="url(#a)"/>
<path class="k" stroke-width="1.6" d="M2440 914L2472 911" marker-end="url(#a)"/>
<path class="k" stroke-width="1.6" d="M2476 917L2457 939" marker-end="url(#a)"/>
<path class="k" d="M2541 757Q2558 772 2590 778" marker-end="url(#a)"/>
<text class="l" transform="translate(2360 822) rotate(82)" x="0" y="0">h<tspan class="s" dy="5">4</tspan><tspan dy="-5">=37,97</tspan></text>
<text class="t" x="2618" y="753">O</text>
<text class="s" x="2574" y="738">m<tspan style="font-size:10px" dy="3">o1</tspan></text>
<use href="#v" x="2648" y="753"/><text class="l" x="2648" y="779">R<tspan class="s" dy="5">01</tspan></text>
<text class="l" x="2502" y="792">M<tspan class="s" dy="5">ур</tspan></text>
<text class="l" x="2523" y="819">S<tspan class="s" dy="5">1</tspan></text>
<use href="#v" x="2553" y="832"/><text class="l" x="2553" y="858">G<tspan class="s">1</tspan></text>
<text class="l" x="2656" y="880" text-anchor="middle" textLength="72" lengthAdjust="spacingAndGlyphs">h<tspan class="s" dy="5">3</tspan><tspan dy="-5">=16,14</tspan></text>
<use href="#v" x="2410" y="880"/><text class="l" x="2410" y="906">R<tspan class="s" dy="5">21</tspan></text>
<text class="s" x="2456" y="898">m<tspan style="font-size:10px" dy="3">A1</tspan></text>
<text class="l" x="2505" y="935">A<tspan class="s" dy="5">2</tspan></text>
<use href="#v" x="2464" y="940"/><text class="l" x="2464" y="966">P<tspan class="s" dy="5">иа1</tspan></text>

<!-- PLAN CRANK 2 -->
<text class="t" x="2650" y="1010" text-anchor="middle" textLength="193" lengthAdjust="spacingAndGlyphs">План сил кривошипа</text>
<text class="t" x="2648" y="1036" text-anchor="middle" textLength="188" lengthAdjust="spacingAndGlyphs">для положения № 2</text>
<text class="t" x="2627" y="1075" text-anchor="middle" textLength="107" lengthAdjust="spacingAndGlyphs">μ<tspan class="s" dy="5">p</tspan><tspan dy="-5">=5 Н/мм</tspan></text>
<text class="l" x="2646" y="1112" text-anchor="middle" textLength="212" lengthAdjust="spacingAndGlyphs">M<tspan class="s" dy="5">ур</tspan><tspan dy="-5"> + G</tspan><tspan class="s" dy="5">1</tspan><tspan dy="-5">*h</tspan><tspan class="s" dy="5">3</tspan><tspan dy="-5"> – R</tspan><tspan class="s" dy="5">21</tspan><tspan dy="-5">*h</tspan><tspan class="s" dy="5">4</tspan><tspan dy="-5"> = 0</tspan></text>
<path class="f" d="M2471 1229L2861 1164" marker-end="url(#a)"/>
<path class="f" d="M2842 1167L2487 1208" marker-end="url(#a)"/>
<path class="f" d="M2485 1209L2479 1213"/>
<path class="f" d="M2479 1213L2471 1229" marker-end="url(#a)"/>
<use href="#v" x="2607" y="1152"/><text class="l" x="2607" y="1178">R<tspan class="s" dy="5">21</tspan></text>
<use href="#v" x="2464" y="1178"/><text class="l" x="2464" y="1204">G<tspan class="s">1</tspan></text>
<use href="#v" x="2432" y="1201"/><text class="l" x="2432" y="1227">P<tspan class="s" dy="5">иа1</tspan></text>
<use href="#v" x="2660" y="1195"/><text class="l" x="2660" y="1221">R<tspan class="s" dy="5">01</tspan></text>

<!-- ============ ZHUKOVSKY 2 ============ -->
<text class="t" x="2790" y="1268" text-anchor="middle" textLength="171" lengthAdjust="spacingAndGlyphs">Схема нагружения</text>
<text class="t" x="2786" y="1293" text-anchor="middle" textLength="214" lengthAdjust="spacingAndGlyphs">рычага Н.Е.Жуковского</text>
<text class="t" x="2794" y="1321" text-anchor="middle" textLength="178" lengthAdjust="spacingAndGlyphs">для положения №2</text>
<text class="l" x="2771" y="1361" text-anchor="middle" textLength="520" lengthAdjust="spacingAndGlyphs">–P<tspan class="s" dy="5">ур</tspan><tspan dy="-5"> *</tspan><tspan class="s" dy="3">Pvа2</tspan><tspan dy="-3"> – G</tspan><tspan class="s" dy="5">1</tspan><tspan dy="-5"> *H</tspan><tspan class="s" dy="5">1</tspan><tspan dy="-5"> – G</tspan><tspan class="s" dy="5">2</tspan><tspan dy="-5"> *H</tspan><tspan class="s" dy="5">2</tspan><tspan dy="-5"> – G</tspan><tspan class="s" dy="5">3</tspan><tspan dy="-5"> *H</tspan><tspan class="s" dy="5">3</tspan><tspan dy="-5"> +(P</tspan><tspan class="s" dy="5">пс</tspan><tspan dy="-5"> + P</tspan><tspan class="s" dy="5">и3</tspan><tspan dy="-5"> + P</tspan><tspan class="s" dy="5">ив1</tspan><tspan dy="-5">) *p</tspan><tspan class="s" dy="5">vв2</tspan><tspan dy="-5">=0</tspan></text>
<path d="M2564 1717L2617 1505L2639 1425L2792 1415Z" fill="url(#h2)" stroke="none"/>
<path class="k" d="M2564 1394L2564 1717M2564 1717L2617 1505L2639 1425M2623 1420L2792 1415M2564 1717L2792 1415M2564 1717L2718 1456M2718 1422L2718 1456M2678 1601L2678 1566"/>
<path class="k" stroke-width="1.6" d="M2640 1425L2640 1505" marker-end="url(#a)"/>
<path class="k" stroke-width="1.6" d="M2718 1424L2718 1456" marker-end="url(#a)"/>
<path class="k" stroke-width="1.6" d="M2678 1567L2678 1601" marker-end="url(#a)"/>
<path class="k" d="M2640 1505L2452 1505" marker-end="url(#a)"/>
<path class="k" d="M2718 1456L2455 1456" marker-end="url(#a)"/>
<path class="k" d="M2678 1601L2455 1601" marker-end="url(#a)"/>
<path class="k" stroke-width="1.6" d="M2639 1425L2612 1417" marker-end="url(#a)"/>
<path class="k" stroke-width="1.6" stroke-dasharray="6 3" d="M2642 1424L2705 1442" marker-end="url(#a)"/>
<path class="k" stroke-width="1.6" d="M2792 1415L2820 1429" marker-end="url(#a)"/>
<path class="k" stroke-width="1.6" d="M2778 1433L2762 1452" marker-end="url(#a)"/>
<path class="k" stroke-width="1.6" d="M2564 1712L2536 1697" marker-end="url(#a)"/>
<circle cx="2718" cy="1422" r="2" fill="#f44"/><circle cx="2678" cy="1566" r="2" fill="#f44"/><circle cx="2792" cy="1415" r="2" fill="#f44"/>
<circle cx="2564" cy="1717" r="4" fill="#fff" stroke="#00f" stroke-width="2"/>
<path class="b" stroke-width="1.8" d="M2558 1723h12M2560 1723v8M2564 1723v8M2568 1723v8"/>
<text class="l" x="2503" y="1446" text-anchor="middle" textLength="79" lengthAdjust="spacingAndGlyphs">H<tspan class="s" dy="5">2</tspan><tspan dy="-5">=40,51</tspan></text>
<text class="l" x="2502" y="1494" text-anchor="middle" textLength="83" lengthAdjust="spacingAndGlyphs">H<tspan class="s" dy="5">3</tspan><tspan dy="-5">=20,47</tspan></text>
<text class="l" x="2502" y="1591" text-anchor="middle" textLength="80" lengthAdjust="spacingAndGlyphs">H<tspan class="s" dy="5">1</tspan><tspan dy="-5">=30,28</tspan></text>
<use href="#v" x="2594" y="1385"/><text class="l" x="2594" y="1411">P<tspan class="s" dy="5">пс2</tspan></text>
<use href="#v" x="2642" y="1390"/><text class="l" x="2642" y="1416">P<tspan class="s" dy="5">и3</tspan></text>
<use href="#v" x="2675" y="1388"/><text class="l" x="2675" y="1414">P<tspan class="s" dy="5">ив2</tspan></text>
<text class="l" x="2711" y="1410">S<tspan class="s" dy="5">2</tspan></text>
<text class="l" x="2789" y="1398">а<tspan class="s" dy="5">1</tspan></text>
<use href="#v" x="2820" y="1393"/><text class="l" x="2820" y="1419">P<tspan class="s" dy="5">ур</tspan></text>
<text class="l" x="2614" y="1444">б<tspan class="s" dy="5">1</tspan></text>
<use href="#v" x="2728" y="1430"/><text class="l" x="2728" y="1456">G<tspan class="s">2</tspan></text>
<use href="#v" x="2597" y="1462"/><text class="l" x="2597" y="1488">G<tspan class="s">3</tspan></text>
<use href="#v" x="2789" y="1434"/><text class="l" x="2789" y="1460">P<tspan class="s" dy="5">иа1</tspan></text>
<use href="#v" x="2768" y="1466"/><text class="l" x="2768" y="1492">P<tspan class="s" dy="5">иа2</tspan></text>
<use href="#v" x="2654" y="1536"/><text class="l" x="2654" y="1562">G<tspan class="s">1</tspan></text>
<text class="l" x="2690" y="1585">S<tspan class="s" dy="5">1</tspan></text>
<use href="#v" x="2525" y="1715"/><text class="l" x="2525" y="1741">P<tspan class="s" dy="5">ур</tspan></text>
<text class="l" x="2571" y="1740">p<tspan class="s" dy="5">v</tspan></text>

<!-- ============ TABLE ============ -->
<g class="tb">
<rect x="137" y="1852" width="2954" height="115" stroke-width="2"/>
<path stroke-width="2" d="M137 1890H3091M137 1929H3091"/>
<path stroke-width="1.3" d="M204 1852V1967M326 1852V1967M515 1852V1967M705 1852V1967M891 1852V1967M1081 1852V1967M1271 1852V1967M1461 1852V1967M1650 1852V1967M1838 1852V1967M2029 1852V1967M2219 1852V1967M2595 1852V1967M2734 1852V1967M2903 1852V1967M2908 1852V1967"/>
<path stroke-width="2" d="M2407 1852V1967"/>
</g>
<g text-anchor="middle">
<text x="265" y="1882" style="font-size:20px" textLength="60" lengthAdjust="spacingAndGlyphs">P<tspan class="s" dy="3">пс(Н)</tspan></text>
<text x="420" y="1882" style="font-size:20px" textLength="40" lengthAdjust="spacingAndGlyphs">G<tspan class="s" dy="3">1(Н)</tspan></text>
<text x="610" y="1882" style="font-size:20px" textLength="40" lengthAdjust="spacingAndGlyphs">G<tspan class="s" dy="3">2(Н)</tspan></text>
<text x="798" y="1882" style="font-size:20px" textLength="40" lengthAdjust="spacingAndGlyphs">G<tspan class="s" dy="3">3(Н)</tspan></text>
<text x="986" y="1882" style="font-size:20px" textLength="50" lengthAdjust="spacingAndGlyphs">R<tspan class="s" dy="3">12(Н)</tspan></text>
<text x="1176" y="1882" style="font-size:20px" textLength="54" lengthAdjust="spacingAndGlyphs">R<tspan class="s" dy="-8">τ</tspan><tspan class="s" dy="11">12(Н)</tspan></text>
<text x="1366" y="1882" style="font-size:20px" textLength="56" lengthAdjust="spacingAndGlyphs">R<tspan class="s" dy="-8">n</tspan><tspan class="s" dy="11">12(Н)</tspan></text>
<text x="1555" y="1882" style="font-size:20px" textLength="52" lengthAdjust="spacingAndGlyphs">R<tspan class="s" dy="3">01(Н)</tspan></text>
<text x="1744" y="1882" style="font-size:20px" textLength="56" lengthAdjust="spacingAndGlyphs">R<tspan class="s" dy="3">03(Н)</tspan></text>
<text x="1933" y="1882" style="font-size:20px" textLength="62" lengthAdjust="spacingAndGlyphs">P<tspan class="s" dy="3">иA1(Н)</tspan></text>
<text x="2124" y="1882" style="font-size:20px" textLength="62" lengthAdjust="spacingAndGlyphs">P<tspan class="s" dy="3">иA2(Н)</tspan></text>
<text x="2313" y="1882" style="font-size:20px" textLength="64" lengthAdjust="spacingAndGlyphs">P<tspan class="s" dy="3">иB2(Н)</tspan></text>
<text x="2501" y="1882" style="font-size:20px" textLength="56" lengthAdjust="spacingAndGlyphs">P<tspan class="s" dy="3">и3(Н)</tspan></text>
<text x="2664" y="1882" style="font-size:24px" textLength="58" lengthAdjust="spacingAndGlyphs">P<tspan class="s" dy="3">ур</tspan><tspan class="s" dy="-10">(Н)</tspan></text>
<text x="2818" y="1882" style="font-size:20px" textLength="70" lengthAdjust="spacingAndGlyphs">M<tspan class="s" dy="3">ур(Н*м)</tspan></text>
<text x="3000" y="1882" style="font-size:22px" textLength="78" lengthAdjust="spacingAndGlyphs">ΔM<tspan class="s" dy="3">ур</tspan><tspan dy="-3">(%)</tspan></text>
</g>
<g text-anchor="middle">
<text x="170" y="1920" style="font-size:26px" textLength="56" lengthAdjust="spacingAndGlyphs">Пол.1</text>
<text x="170" y="1959" style="font-size:26px" textLength="56" lengthAdjust="spacingAndGlyphs">Пол.2</text>
<text x="265" y="1920" style="font-size:28px">8</text>
<text x="420" y="1920" style="font-size:28px" textLength="33" lengthAdjust="spacingAndGlyphs">2,65</text>
<text x="610" y="1920" style="font-size:28px" textLength="33" lengthAdjust="spacingAndGlyphs">8,33</text>
<text x="798" y="1920" style="font-size:28px" textLength="33" lengthAdjust="spacingAndGlyphs">2,84</text>
<text x="986" y="1920" style="font-size:28px" textLength="52" lengthAdjust="spacingAndGlyphs">138,68</text>
<text x="1176" y="1920" style="font-size:28px" textLength="42" lengthAdjust="spacingAndGlyphs">36,13</text>
<text x="1366" y="1920" style="font-size:28px" textLength="52" lengthAdjust="spacingAndGlyphs">133,91</text>
<text x="1555" y="1920" style="font-size:28px" textLength="52" lengthAdjust="spacingAndGlyphs">165,23</text>
<text x="1744" y="1920" style="font-size:28px" textLength="33" lengthAdjust="spacingAndGlyphs">7,95</text>
<text x="1933" y="1920" style="font-size:28px" textLength="20" lengthAdjust="spacingAndGlyphs">26</text>
<text x="2124" y="1920" style="font-size:28px" textLength="20" lengthAdjust="spacingAndGlyphs">82</text>
<text x="2313" y="1920" style="font-size:28px" textLength="42" lengthAdjust="spacingAndGlyphs">30,45</text>
<text x="2501" y="1920" style="font-size:28px" textLength="42" lengthAdjust="spacingAndGlyphs">20,07</text>
<text x="2664" y="1915" style="font-size:28px" textLength="42" lengthAdjust="spacingAndGlyphs">17,95</text>
<text x="2818" y="1920" style="font-size:28px" textLength="33" lengthAdjust="spacingAndGlyphs">1,48</text>
<text x="3000" y="1920" style="font-size:28px" textLength="24" lengthAdjust="spacingAndGlyphs">3,5</text>
<text x="265" y="1959" style="font-size:28px" textLength="46" lengthAdjust="spacingAndGlyphs">396,4</text>
<text x="420" y="1959" style="font-size:28px" textLength="33" lengthAdjust="spacingAndGlyphs">2,65</text>
<text x="610" y="1959" style="font-size:28px" textLength="33" lengthAdjust="spacingAndGlyphs">8,33</text>
<text x="798" y="1959" style="font-size:28px" textLength="33" lengthAdjust="spacingAndGlyphs">2,84</text>
<text x="986" y="1959" style="font-size:28px" textLength="52" lengthAdjust="spacingAndGlyphs">505,85</text>
<text x="1176" y="1959" style="font-size:28px" textLength="33" lengthAdjust="spacingAndGlyphs">65,1</text>
<text x="1366" y="1959" style="font-size:28px" textLength="52" lengthAdjust="spacingAndGlyphs">501,65</text>
<text x="1555" y="1959" style="font-size:28px" textLength="52" lengthAdjust="spacingAndGlyphs">524,86</text>
<text x="1744" y="1959" style="font-size:28px" textLength="52" lengthAdjust="spacingAndGlyphs">106,04</text>
<text x="1933" y="1959" style="font-size:28px" textLength="20" lengthAdjust="spacingAndGlyphs">26</text>
<text x="2124" y="1959" style="font-size:28px" textLength="20" lengthAdjust="spacingAndGlyphs">82</text>
<text x="2313" y="1959" style="font-size:28px" textLength="42" lengthAdjust="spacingAndGlyphs">25,99</text>
<text x="2501" y="1959" style="font-size:28px" textLength="42" lengthAdjust="spacingAndGlyphs">17,13</text>
<text x="2664" y="1955" style="font-size:28px" textLength="52" lengthAdjust="spacingAndGlyphs">342,46</text>
<text x="2818" y="1959" style="font-size:28px" textLength="42" lengthAdjust="spacingAndGlyphs">28,75</text>
<text x="3000" y="1959" style="font-size:28px" textLength="33" lengthAdjust="spacingAndGlyphs">4,93</text>
</g>

<!-- ============ TITLE BLOCK ============ -->
<g class="bl">
<rect x="2462" y="2020" width="699" height="208"/>
<path d="M2489 2020V2115M2527 2020V2228M2614 2020V2228M2670 2020V2228M2708 2020V2228"/>
<path d="M2462 2039H2708M2462 2058H2708M2462 2078H3161M2462 2097H2708M2462 2115H2708M2462 2134H2708M2462 2153H2708M2462 2172H3161M2462 2191H2708M2462 2209H2708"/>
<path d="M2973 2078V2228M3029 2078V2153M3094 2078V2153M2973 2097H3161M2973 2153H3161M3049 2153V2172"/>
</g>
<path class="k" d="M2991 2097V2153M3010 2097V2153"/>
<text x="2933" y="2063" text-anchor="middle" style="font-size:44px" textLength="337" lengthAdjust="spacingAndGlyphs">Курсовой проект по ТММ</text>
<text x="2712" y="2119" style="font-size:38px" textLength="254" lengthAdjust="spacingAndGlyphs">Кинетостатический</text>
<text x="2717" y="2153" style="font-size:38px" textLength="244" lengthAdjust="spacingAndGlyphs">расчет механизма</text>
<text x="2711" y="2211" style="font-size:38px" textLength="253" lengthAdjust="spacingAndGlyphs">Кафедра машиведения</text>
<text x="2978" y="2211" style="font-size:38px" textLength="175" lengthAdjust="spacingAndGlyphs">ОмГТУ, ГП-312</text>
<text x="2983" y="2093" style="font-size:18px" textLength="33" lengthAdjust="spacingAndGlyphs">Лит.</text>
<text x="3044" y="2093" style="font-size:18px" textLength="39" lengthAdjust="spacingAndGlyphs">Масса</text>
<text x="3099" y="2093" style="font-size:18px" textLength="60" lengthAdjust="spacingAndGlyphs">Масштаб</text>
<text x="3127" y="2134" text-anchor="middle" style="font-size:28px" textLength="22" lengthAdjust="spacingAndGlyphs">1:1</text>
<text x="2979" y="2169" style="font-size:18px" textLength="38" lengthAdjust="spacingAndGlyphs">Лист</text>
<text x="3061" y="2169" style="font-size:18px" textLength="45" lengthAdjust="spacingAndGlyphs">Листов</text>
<text x="3138" y="2169" style="font-size:18px">1</text>
<text x="2463" y="2112" style="font-size:16px" textLength="25" lengthAdjust="spacingAndGlyphs">Изм.</text>
<text x="2491" y="2112" style="font-size:16px" textLength="34" lengthAdjust="spacingAndGlyphs">Лист</text>
<text x="2543" y="2112" style="font-size:16px" textLength="58" lengthAdjust="spacingAndGlyphs">№ докум.</text>
<text x="2628" y="2112" style="font-size:16px" textLength="30" lengthAdjust="spacingAndGlyphs">Подп.</text>
<text x="2672" y="2112" style="font-size:16px" textLength="33" lengthAdjust="spacingAndGlyphs">Дата</text>
<text x="2464" y="2131" style="font-size:16px" textLength="48" lengthAdjust="spacingAndGlyphs">Разраб.</text>
<text x="2530" y="2131" style="font-size:16px" textLength="80" lengthAdjust="spacingAndGlyphs">Зырянов А.С.</text>
<text x="2464" y="2150" style="font-size:16px" textLength="30" lengthAdjust="spacingAndGlyphs">Пров.</text>
<text x="2530" y="2150" style="font-size:16px" textLength="82" lengthAdjust="spacingAndGlyphs">Рязанцева И.Л.</text>
<text x="2464" y="2169" style="font-size:16px" textLength="50" lengthAdjust="spacingAndGlyphs">Т.контр.</text>
<text x="2464" y="2206" style="font-size:16px" textLength="52" lengthAdjust="spacingAndGlyphs">Н.контр.</text>
<text x="2464" y="2225" style="font-size:16px" textLength="28" lengthAdjust="spacingAndGlyphs">Утв.</text>
<text x="2750" y="2243" style="font-size:18px" textLength="69" lengthAdjust="spacingAndGlyphs">Копировал</text>
<text x="3016" y="2243" style="font-size:18px" textLength="53" lengthAdjust="spacingAndGlyphs">Формат</text>
<text x="3088" y="2243" style="font-size:18px" textLength="18" lengthAdjust="spacingAndGlyphs">А1</text>
</svg>
</body></html>
